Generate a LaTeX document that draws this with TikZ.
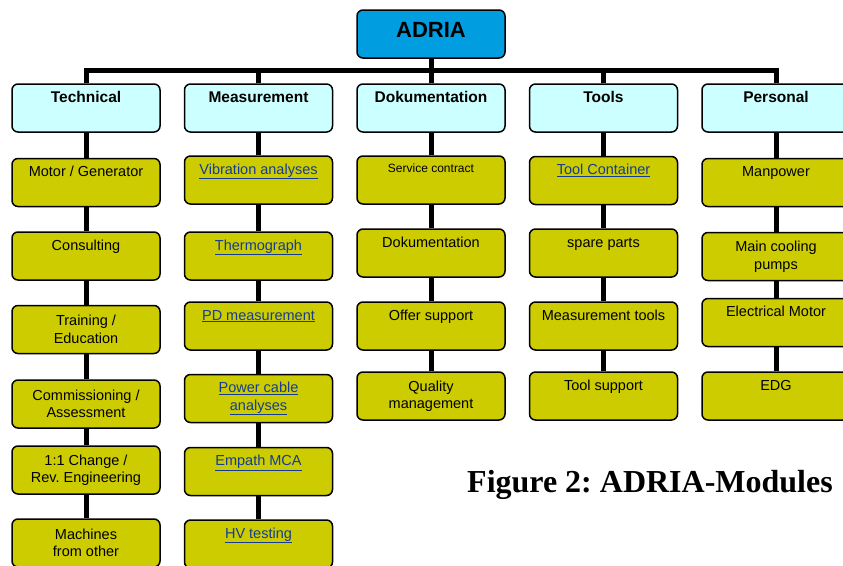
\documentclass[tikz,border=0pt]{standalone}
\usepackage{fontspec}
\setmainfont{Liberation Serif}
\setsansfont{Liberation Sans}
\usepackage{tikz}
\usepackage{xcolor}
\frenchspacing

\definecolor{adriablue}{RGB}{0,158,224}
\definecolor{headcyan}{RGB}{204,255,255}
\definecolor{itemolive}{RGB}{204,204,0}
\definecolor{linkblue}{RGB}{20,60,150}
\newcommand{\lnk}[1]{\textcolor{linkblue}{\underline{#1}}}

\tikzset{
    box/.style={draw, line width=1.5pt, rounded corners=6pt, minimum width=148pt, minimum height=48pt,
        align=center, font=\sffamily\fontsize{14.5}{17.5}\selectfont},
    itembox/.style={box, fill=itemolive},
    headbox/.style={box, fill=headcyan, font=\sffamily\bfseries\fontsize{15.5}{18}\selectfont},
    toptext/.style={text height=11pt, text depth=23pt},
    link/.style={line width=5pt}
}

\begin{document}
\begin{tikzpicture}[x=1pt, y=-1pt]
        \useasboundingbox (0,0) rectangle (843,565);
        \clip (0,0) rectangle (843,565);

        % Wurzel
        \node[box, fill=adriablue, font=\sffamily\bfseries\fontsize{22}{26}\selectfont,
            text height=16pt, text depth=10pt] (adria) at (431,34) {ADRIA};

        % Module
        \node[headbox, text height=12pt, text depth=23pt] (tech) at (86,108) {Technical};
        \node[headbox, text height=12pt, text depth=23pt] (meas) at (258.5,108) {Measurement};
        \node[headbox, text height=12pt, text depth=23pt] (dok) at (431,108) {Dokumentation};
        \node[headbox, text height=12pt, text depth=23pt] (tools) at (603.5,108) {Tools};
        \node[headbox, text height=12pt, text depth=23pt] (pers) at (776,108) {Personal};

        % Technical
        \node[itembox, toptext] (motor) at (86,182.5) {Motor / Generator};
        \node[itembox, toptext] (consult) at (86,256) {Consulting};
        \node[itembox] (train) at (86,329.5) {Training /\\Education};
        \node[itembox] (commis) at (86,404) {Commissioning /\\Assessment};
        \node[itembox] (change) at (86,470) {1:1 Change /\\Rev. Engineering};
        \node[itembox] (machines) at (86,543) {Machines\\from other};

        % Measurement
        \node[itembox, toptext] (vib) at (258.5,180) {\lnk{Vibration analyses}};
        \node[itembox, toptext] (thermo) at (258.5,256) {\lnk{Thermograph}};
        \node[itembox, toptext] (pd) at (258.5,326) {\lnk{PD measurement}};
        \node[itembox] (cable) at (258.5,398.5) {\lnk{Power cable}\\\lnk{analyses}};
        \node[itembox, toptext] (empath) at (258.5,471.5) {\lnk{Empath MCA}};
        \node[itembox, toptext] (hv) at (258.5,544) {\lnk{HV testing}};

        % Dokumentation
        \node[itembox, toptext, font=\sffamily\fontsize{12}{14}\selectfont, text height=9pt, text depth=25pt]
            (service) at (431,180) {Service contract};
        \node[itembox, toptext] (doku) at (431,253) {Dokumentation};
        \node[itembox, toptext] (offer) at (431,326) {Offer support};
        \node[itembox] (quality) at (431,396) {Quality\\management};

        % Tools
        \node[itembox, toptext] (container) at (603.5,180.5) {\lnk{Tool Container}};
        \node[itembox, toptext] (spare) at (603.5,253) {spare parts};
        \node[itembox, toptext] (mtools) at (603.5,326) {Measurement tools};
        \node[itembox, toptext] (tsupport) at (603.5,396) {Tool support};

        % Personal
        \node[itembox, toptext] (manpower) at (776,182.5) {Manpower};
        \node[itembox] (cooling) at (776,256.5) {Main cooling\\pumps};
        \node[itembox, toptext] (emotor) at (776,322.5) {Electrical Motor};
        \node[itembox, toptext] (edg) at (776,396) {EDG};

        % Verbindungen
        \coordinate (bar) at (431,70);
        \draw[link] (adria) -- (bar);
        \draw[link] (tech.north) |- (bar) -| (pers.north);
        \draw[link] (meas.north) -- (meas.north |- bar);
        \draw[link] (dok.north) -- (dok.north |- bar);
        \draw[link] (tools.north) -- (tools.north |- bar);

        \draw[link] (tech) -- (motor);
        \draw[link] (motor) -- (consult);
        \draw[link] (consult) -- (train);
        \draw[link] (train) -- (commis);
        \draw[link] (commis) -- (change);
        \draw[link] (change) -- (machines);

        \draw[link] (meas) -- (vib);
        \draw[link] (vib) -- (thermo);
        \draw[link] (thermo) -- (pd);
        \draw[link] (pd) -- (cable);
        \draw[link] (cable) -- (empath);
        \draw[link] (empath) -- (hv);

        \draw[link] (dok) -- (service);
        \draw[link] (service) -- (doku);
        \draw[link] (doku) -- (offer);
        \draw[link] (offer) -- (quality);

        \draw[link] (tools) -- (container);
        \draw[link] (container) -- (spare);
        \draw[link] (spare) -- (mtools);
        \draw[link] (mtools) -- (tsupport);

        \draw[link] (pers) -- (manpower);
        \draw[link] (manpower) -- (cooling);
        \draw[link] (cooling) -- (emotor);
        \draw[link] (emotor) -- (edg);

        % Bildunterschrift
        \node[font=\bfseries\fontsize{32}{38}\selectfont, anchor=base] (caption) at (650,492) {Figure 2: ADRIA-Modules};
    \end{tikzpicture}
\end{document}
